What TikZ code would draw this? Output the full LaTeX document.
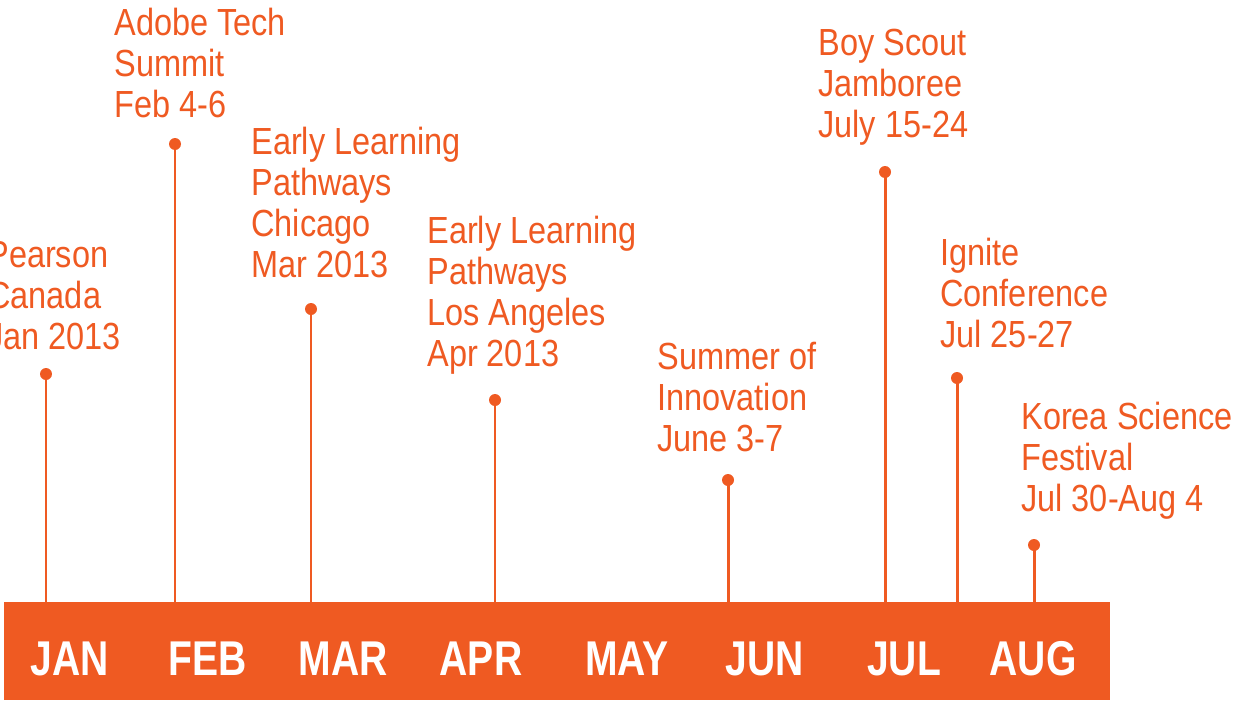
\documentclass[tikz,border=0pt]{standalone}
\usepackage{fontspec}
\setmainfont{Liberation Sans}[FakeStretch=0.86]
\newfontfamily\monthfont{Liberation Sans}[FakeStretch=0.8]
\definecolor{eventorange}{RGB}{239,90,34}

\tikzset{
	event/.style={text=eventorange,anchor=base west,align=left,inner sep=0pt,
		font=\fontsize{21.5}{23.2}\selectfont},
	month/.style={text=white,anchor=base,inner sep=0pt,
		font=\monthfont\bfseries\fontsize{27.8}{30}\selectfont},
	stem/.style={draw=eventorange,line width=1.7pt},
	pin/.style={circle,fill=eventorange,inner sep=0pt,minimum size=0.24cm}
}

\begin{document}
\begin{tikzpicture}[x=0.02cm,y=-0.02cm]
			\useasboundingbox (0,0) rectangle (1241,700);
			\clip (0,0) rectangle (1241,700);

			% month bar
			\fill[eventorange] (4,602) rectangle (1110,700);
			\foreach \m/\x in {JAN/70,FEB/208,MAR/343,APR/481,MAY/627,JUN/765,JUL/904,AUG/1033}
				\node[month] (m-\m) at (\x,675) {\m};

			% events: pin x / pin y / text x / last baseline / text
			\foreach \i/\x/\y/\tx/\ty/\txt in {
					1/46/374/-13/349/{Pearson\\Canada\\Jan 2013},
					2/175/144/114/117/{Adobe Tech\\Summit\\Feb 4-6},
					3/311/309/251/277/{Early Learning\\Pathways\\Chicago\\Mar 2013},
					4/495/400/427/366/{Early Learning\\Pathways\\Los Angeles\\Apr 2013},
					5/728/480/657/451/{Summer of\\Innovation\\June 3-7},
					6/885/172/818/137/{Boy Scout\\Jamboree\\July 15-24},
					7/957/378/940/347/{Ignite\\Conference\\Jul 25-27},
					8/1034/545/1021/511/{Korea Science\\Festival\\Jul 30-Aug 4}}
			{
				\node[pin] (p\i) at (\x,\y) {};
				\coordinate (b\i) at (\x,602);
				\draw[stem] (p\i.center) -- (b\i);
				\node[event] (e\i) at (\tx,\ty) {\txt};
			}
		\end{tikzpicture}
\end{document}
